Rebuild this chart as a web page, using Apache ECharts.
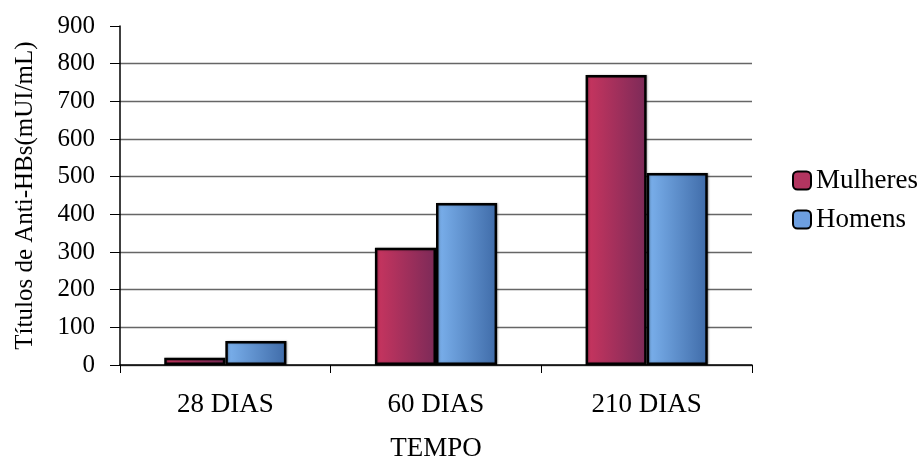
<!DOCTYPE html>
<html>
<head>
<meta charset="utf-8">
<script src="https://cdn.jsdelivr.net/npm/echarts@6/dist/echarts.min.js"></script>
<style>
html,body{margin:0;padding:0;background:#fff;}
#chart{width:922px;height:461px;}
</style>
</head>
<body>
<div id="chart"></div>
<script>
// Anti-HBs titres by time since vaccination, split by sex
var categories = ['28 DIAS', '60 DIAS', '210 DIAS'];
var mulheres = [19, 311, 770];
var homens = [64, 430, 510];
var yTicks = [0, 100, 200, 300, 400, 500, 600, 700, 800, 900];

var font = 'Liberation Serif, Times New Roman, serif';

function grad(c1, c2) {
  return new echarts.graphic.LinearGradient(0, 0, 1, 0, [
    { offset: 0, color: c1 },
    { offset: 1, color: c2 }
  ]);
}

var chart = echarts.init(document.getElementById('chart'));
chart.setOption({
  animation: false,
  backgroundColor: '#ffffff',
  textStyle: { fontFamily: font, color: '#000' },
  grid: { left: 120, right: 170, top: 26, bottom: 96, containLabel: false, outerBoundsMode: 'none' },
  legend: {
    orient: 'vertical',
    left: 787,
    top: 162,
    itemWidth: 18,
    itemHeight: 18,
    itemGap: 12,
    textStyle: { fontFamily: font, fontSize: 27, color: '#000' },
    data: [
      { name: 'Mulheres', itemStyle: { color: '#b23560', borderColor: '#000', borderWidth: 2 } },
      { name: 'Homens', itemStyle: { color: '#6d9fe0', borderColor: '#000', borderWidth: 2 } }
    ]
  },
  xAxis: {
    type: 'category',
    data: categories,
    name: 'TEMPO',
    nameLocation: 'middle',
    nameGap: 70,
    nameTextStyle: { fontFamily: font, fontSize: 27, color: '#000' },
    axisLine: { lineStyle: { color: '#000', width: 1.5 } },
    axisTick: { show: true, length: 8, lineStyle: { color: '#000' } },
    axisLabel: { fontFamily: font, fontSize: 27, color: '#000', margin: 26 }
  },
  yAxis: {
    type: 'value',
    min: 0,
    max: 900,
    interval: 100,
    name: 'Títulos de Anti-HBs(mUI/mL)',
    nameLocation: 'middle',
    nameGap: 82,
    nameTextStyle: { fontFamily: font, fontSize: 25, color: '#000' },
    axisLine: { show: true, lineStyle: { color: '#000', width: 1.5 } },
    axisTick: { show: true, length: 10, lineStyle: { color: '#000' } },
    axisLabel: {
      fontFamily: font, fontSize: 25, color: '#000', margin: 25,
      formatter: function (v) { return yTicks.indexOf(v) >= 0 ? String(v) : ''; }
    },
    splitLine: {
      show: true,
      lineStyle: { color: '#666', width: 1.3 },
      showMaxLine: false
    }
  },
  series: [
    {
      name: 'Mulheres',
      type: 'bar',
      data: mulheres,
      barGap: '0%',
      barCategoryGap: '42%',
      itemStyle: {
        color: grad('#c9355f', '#7b2a58'),
        borderColor: '#000',
        borderWidth: 2.5,
        shadowColor: 'rgba(0,0,0,0.25)',
        shadowBlur: 2,
        shadowOffsetX: 1
      }
    },
    {
      name: 'Homens',
      type: 'bar',
      data: homens,
      itemStyle: {
        color: grad('#7cb2ee', '#3f6ba8'),
        borderColor: '#000',
        borderWidth: 2.5,
        shadowColor: 'rgba(0,0,0,0.25)',
        shadowBlur: 2,
        shadowOffsetX: 1
      }
    }
  ]
});
</script>
</body>
</html>
